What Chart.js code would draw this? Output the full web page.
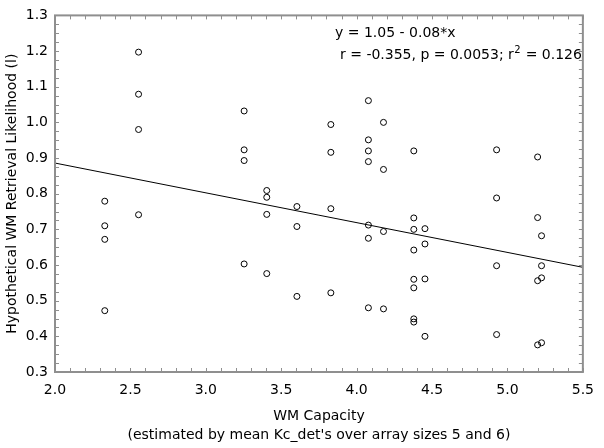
<!DOCTYPE html>
<html>
<head>
<meta charset="utf-8">
<script src="https://cdn.jsdelivr.net/npm/chart.js@4"></script>
<style>
  html, body { margin: 0; padding: 0; background: #fff; }
  #wrap { width: 604px; height: 448px; }
</style>
</head>
<body>
<div id="wrap"><canvas id="Chart1" width="604" height="448"></canvas></div>
<script>
// WM capacity vs hypothetical retrieval likelihood

let capacity = [
  2.33, 2.33, 2.33, 2.33,
  2.554, 2.554, 2.554, 2.554,
  3.254, 3.254, 3.254, 3.254,
  3.404, 3.404, 3.404, 3.404,
  3.604, 3.604, 3.604,
  3.829, 3.829, 3.829, 3.829,
  4.078, 4.078, 4.078, 4.078, 4.078, 4.078, 4.078,
  4.178, 4.178, 4.178, 4.178,
  4.379, 4.379, 4.379, 4.379, 4.379, 4.379, 4.379, 4.379,
  4.453, 4.453, 4.453, 4.453,
  4.928, 4.928, 4.928, 4.928,
  5.200, 5.200, 5.200, 5.200,
  5.226, 5.226, 5.226, 5.226
];
let likelihood = [
  0.779, 0.710, 0.672, 0.472,
  1.197, 1.079, 0.980, 0.741,
  1.032, 0.923, 0.893, 0.603,
  0.809, 0.790, 0.742, 0.576,
  0.764, 0.708, 0.512,
  0.994, 0.916, 0.758, 0.522,
  1.061, 0.951, 0.920, 0.890, 0.712, 0.675, 0.480,
  1.000, 0.868, 0.694, 0.477,
  0.920, 0.732, 0.700, 0.642, 0.560, 0.536, 0.449, 0.440,
  0.702, 0.659, 0.561, 0.400,
  0.923, 0.788, 0.598, 0.405,
  0.903, 0.733, 0.556, 0.376,
  0.682, 0.598, 0.564, 0.382
];
let fitText = "y = 1.05 - 0.08*x";
let statText = ["r = -0.355, p = 0.0053; r", "2", " = 0.126"];

// least squares line from the points
let n = capacity.length;
let mx = capacity.reduce((a, b) => a + b, 0) / n;
let my = likelihood.reduce((a, b) => a + b, 0) / n;
let sxy = 0, sxx = 0;
for (let i = 0; i < n; i++) {
  sxy += (capacity[i] - mx) * (likelihood[i] - my);
  sxx += (capacity[i] - mx) * (capacity[i] - mx);
}
let slope = sxy / sxx;
let intercept = my - slope * mx;

let points = capacity.map((x, i) => ({x: x, y: likelihood[i]}));
let fitLine = [2, 5.5].map(x => ({x: x, y: intercept + slope * x}));

const FONT = "'DejaVu Sans', Verdana, sans-serif";
Chart.defaults.font.family = FONT;
Chart.defaults.font.size = 14;
Chart.defaults.color = "#000";

// frame, inward ticks and the equation text
const frame = {
  id: "frame",
  afterDraw(chart) {
    const {ctx, chartArea: a, scales: {x, y}} = chart;
    ctx.save();
    ctx.strokeStyle = "#8f8f8f";
    ctx.lineWidth = 1;
    for (let v = 2; v <= 5.5001; v += 0.1) {
      const px = Math.round(x.getPixelForValue(v)) + 0.5;
      ctx.beginPath();
      ctx.moveTo(px, a.bottom); ctx.lineTo(px, a.bottom - 4);
      ctx.moveTo(px, a.top); ctx.lineTo(px, a.top + 4);
      ctx.stroke();
    }
    for (let v = 0.3; v <= 1.3001; v += 0.025) {
      const py = Math.round(y.getPixelForValue(v)) + 0.5;
      ctx.beginPath();
      ctx.moveTo(a.left, py); ctx.lineTo(a.left + 4, py);
      ctx.moveTo(a.right, py); ctx.lineTo(a.right - 4, py);
      ctx.stroke();
    }
    ctx.lineWidth = 2;
    ctx.strokeRect(a.left, a.top, a.right - a.left, a.bottom - a.top);

    ctx.fillStyle = "#000";
    ctx.textBaseline = "middle";
    ctx.textAlign = "left";
    ctx.font = "14px " + FONT;
    ctx.fillText(fitText, 335, 33);
    let tx = 340;
    ctx.fillText(statText[0], tx, 55);
    tx += ctx.measureText(statText[0]).width;
    ctx.font = "10px " + FONT;
    ctx.fillText(statText[1], tx + 0.5, 50);
    tx += ctx.measureText(statText[1]).width + 1;
    ctx.font = "14px " + FONT;
    ctx.fillText(statText[2], tx, 55);
    ctx.restore();
  }
};

let config = {
  type: "scatter",
  data: {
    datasets: [{
      data: points,
      pointStyle: "circle",
      pointRadius: 3,
      pointHoverRadius: 3,
      pointBorderWidth: 1,
      borderColor: "#000",
      backgroundColor: "rgba(255,255,255,0)"
    }, {
      type: "line",
      data: fitLine,
      borderColor: "#000",
      borderWidth: 1,
      pointRadius: 0,
      fill: false
    }]
  },
  options: {
    responsive: false,
    animation: false,
    layout: { padding: { top: 10, right: 15, left: 0, bottom: 0 } },
    plugins: { legend: { display: false }, tooltip: { enabled: false } },
    scales: {
      x: {
        type: "linear",
        min: 2, max: 5.5,
        afterFit(s) { s.height = 76; },
        grid: { display: false, drawTicks: false },
        border: { display: false },
        ticks: { stepSize: 0.5, padding: 10, callback: v => v.toFixed(1) },
        title: {
          display: true,
          text: ["WM Capacity", "(estimated by mean Kc_det's over array sizes 5 and 6)"],
          font: { size: 14, lineHeight: 1.36 },
          padding: { top: 0, bottom: 3 }
        }
      },
      y: {
        min: 0.3, max: 1.3,
        afterFit(s) { s.width = 55; },
        grid: { display: false, drawTicks: false },
        border: { display: false },
        ticks: { stepSize: 0.1, padding: 7, callback: v => v.toFixed(1) },
        title: {
          display: true,
          text: "Hypothetical WM Retrieval Likelihood (l)",
          font: { size: 14, lineHeight: 1.36 },
          padding: { top: 3, bottom: 0 }
        }
      }
    }
  },
  plugins: [frame]
};

const myChart = new Chart("Chart1", config);
</script>
</body>
</html>
